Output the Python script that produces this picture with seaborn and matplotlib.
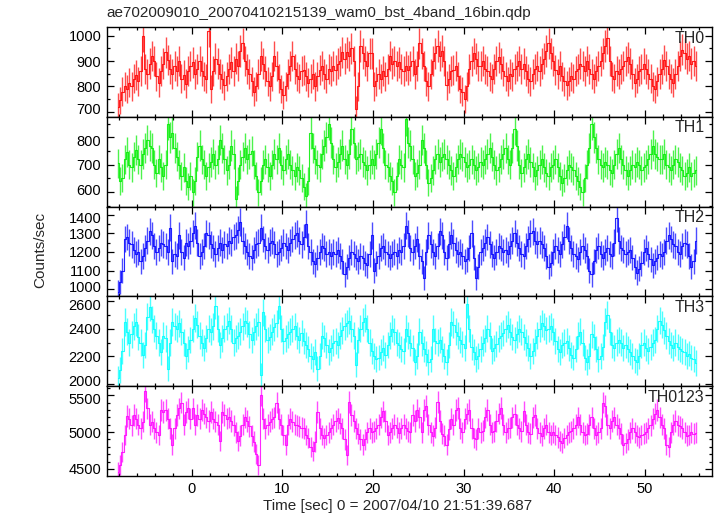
import numpy as np
import pandas as pd
import matplotlib
matplotlib.use('Agg')
import matplotlib.pyplot as plt
from matplotlib.ticker import MultipleLocator
from matplotlib.transforms import ScaledTranslation
import seaborn as sns

# 16 x 1/64 s = 0.25 s bins, first bin centre at -8.125 s
bin_width = 0.25
t_first = -8.125

th0 = [720, 745, 780, 800, 790, 815, 800, 830, 845, 820, 860, 1000, 870, 850, 890, 920,
       900, 840, 815, 860, 890, 935, 905, 870, 850, 880, 860, 900, 830, 845, 810, 860,
       880, 895, 850, 870, 900, 860, 840, 830, 1020, 790, 860, 910, 890, 850, 830, 805,
       840, 870, 895, 860, 910, 880, 940, 970, 900, 870, 850, 820, 780, 800, 850, 920,
       890, 860, 820, 800, 840, 920, 880, 830, 790, 765, 800, 850, 880, 920, 870, 840,
       830, 860, 866, 840, 815, 830, 850, 800, 840, 866, 880, 850, 830, 870, 860, 880,
       866, 890, 900, 935, 910, 935, 920, 950, 900, 710, 800, 960, 930, 900, 880, 930,
       930, 800, 820, 850, 830, 860, 840, 870, 920, 890, 900, 880, 895, 870, 860, 880,
       866, 880, 900, 850, 880, 970, 930, 880, 820, 800, 850, 900, 930, 960, 920, 940,
       900, 805, 830, 860, 866, 880, 840, 790, 780, 750, 800, 870, 900, 930, 910, 880,
       880, 900, 870, 860, 840, 830, 870, 900, 915, 890, 860, 840, 820, 850, 840, 870,
       880, 900, 870, 890, 860, 830, 820, 850, 870, 880, 860, 890, 910, 940, 970, 930,
       900, 866, 850, 880, 840, 820, 805, 820, 840, 830, 860, 870, 890, 880, 860, 900,
       870, 850, 830, 860, 880, 900, 930, 960, 990, 900, 840, 830, 860, 850, 870, 880,
       900, 915, 890, 850, 815, 830, 860, 870, 890, 870, 850, 830, 800, 790, 820, 850,
       870, 905, 880, 850, 830, 815, 850, 880, 920, 945, 930, 910, 920, 890, 900, 880]

th1 = [705, 640, 650, 720, 745, 700, 690, 730, 755, 720, 700, 740, 760, 790, 770, 760,
       700, 670, 720, 690, 660, 700, 850, 800, 815, 760, 730, 700, 660, 690, 640, 620,
       660, 600, 640, 730, 770, 720, 700, 660, 690, 710, 740, 700, 720, 790, 760, 720,
       680, 700, 770, 740, 575, 640, 700, 730, 760, 720, 740, 750, 700, 660, 600, 640,
       700, 720, 690, 660, 700, 740, 720, 760, 700, 680, 720, 740, 700, 680, 660, 690,
       680, 650, 620, 585, 640, 815, 760, 720, 700, 690, 740, 770, 800, 850, 780, 720,
       690, 710, 740, 770, 720, 700, 740, 830, 780, 720, 730, 740, 710, 700, 680, 700,
       720, 700, 740, 780, 830, 760, 700, 690, 660, 640, 600, 660, 720, 700, 690, 865,
       780, 770, 720, 660, 670, 700, 790, 760, 700, 635, 650, 680, 720, 740, 710, 730,
       740, 720, 700, 680, 660, 690, 720, 740, 730, 710, 690, 700, 720, 700, 680, 690,
       710, 700, 720, 740, 760, 730, 700, 680, 690, 720, 740, 760, 720, 700, 760, 830,
       770, 700, 670, 690, 720, 740, 710, 690, 660, 680, 700, 720, 690, 670, 660, 690,
       700, 720, 690, 660, 635, 650, 680, 700, 690, 680, 660, 640, 620, 600, 650, 700,
       760, 850, 800, 760, 720, 700, 690, 710, 700, 680, 670, 700, 740, 760, 720, 700,
       680, 660, 680, 700, 690, 710, 700, 680, 690, 700, 720, 740, 770, 740, 730, 720,
       720, 740, 700, 690, 680, 700, 720, 710, 690, 680, 660, 670, 690, 660, 670, 680]

th2 = [985, 1040, 1100, 1270, 1280, 1250, 1240, 1210, 1190, 1200, 1150, 1180, 1220, 1260, 1310, 1290,
       1230, 1200, 1220, 1250, 1240, 1230, 1200, 1330, 1150, 1190, 1180, 1290, 1200, 1170, 1250, 1230,
       1260, 1300, 1340, 1250, 1180, 1200, 1230, 1300, 1290, 1240, 1220, 1190, 1220, 1250, 1210, 1240,
       1230, 1260, 1250, 1280, 1290, 1320, 1360, 1260, 1230, 1200, 1180, 1170, 1210, 1240, 1250, 1330,
       1270, 1230, 1210, 1250, 1260, 1240, 1190, 1200, 1220, 1250, 1230, 1210, 1250, 1270, 1290, 1300,
       1260, 1240, 1280, 1350, 1230, 1200, 1150, 1135, 1170, 1200, 1230, 1220, 1190, 1200, 1180, 1200,
       1190, 1210, 1180, 1150, 1080, 1120, 1170, 1200, 1190, 1170, 1150, 1180, 1170, 1140, 1130, 1190,
       1290, 1100, 1140, 1180, 1220, 1230, 1200, 1190, 1170, 1190, 1200, 1180, 1210, 1200, 1230, 1340,
       1300, 1220, 1200, 1230, 1270, 1180, 1150, 1060, 1200, 1290, 1240, 1200, 1180, 1230, 1310, 1290,
       1200, 1170, 1240, 1290, 1250, 1210, 1190, 1200, 1180, 1150, 1160, 1220, 1300, 1170, 1060, 1120,
       1200, 1220, 1250, 1280, 1240, 1190, 1170, 1200, 1230, 1220, 1200, 1210, 1190, 1230, 1260, 1300,
       1250, 1220, 1190, 1180, 1230, 1270, 1300, 1310, 1260, 1240, 1260, 1240, 1220, 1180, 1120, 1140,
       1200, 1230, 1210, 1190, 1240, 1280, 1340, 1260, 1220, 1190, 1180, 1160, 1200, 1230, 1210, 1180,
       1100, 1080, 1150, 1210, 1230, 1190, 1170, 1200, 1220, 1190, 1180, 1250, 1380, 1260, 1220, 1210,
       1190, 1200, 1210, 1170, 1120, 1090, 1110, 1140, 1200, 1220, 1190, 1160, 1130, 1150, 1170, 1190,
       1180, 1200, 1260, 1290, 1270, 1240, 1230, 1200, 1190, 1230, 1250, 1240, 1180, 1120, 1150, 1260]

th3 = [2040, 2100, 2240, 2450, 2380, 2300, 2360, 2420, 2450, 2340, 2300, 2210, 2280, 2490, 2560, 2470,
       2400, 2350, 2300, 2230, 2350, 2330, 2110, 2300, 2450, 2420, 2400, 2440, 2380, 2300, 2200, 2250,
       2320, 2400, 2480, 2430, 2350, 2300, 2260, 2330, 2400, 2380, 2420, 2570, 2400, 2280, 2330, 2400,
       2420, 2460, 2400, 2300, 2330, 2350, 2380, 2420, 2460, 2440, 2360, 2320, 2380, 2420, 2450, 2060,
       2520, 2400, 2320, 2340, 2380, 2410, 2440, 2570, 2400, 2310, 2330, 2360, 2380, 2400, 2420, 2350,
       2320, 2370, 2310, 2280, 2250, 2200, 2180, 2230, 2110, 2200, 2350, 2330, 2280, 2230, 2260, 2300,
       2310, 2280, 2350, 2390, 2420, 2440, 2460, 2400, 2350, 2140, 2320, 2400, 2450, 2480, 2400, 2300,
       2240, 2200, 2180, 2190, 2230, 2260, 2210, 2280, 2350, 2400, 2380, 2300, 2280, 2250, 2240, 2400,
       2350, 2300, 2260, 2160, 2200, 2380, 2300, 2250, 2220, 2160, 2180, 2400, 2310, 2300, 2320, 2250,
       2200, 2160, 2280, 2450, 2430, 2380, 2350, 2320, 2290, 2260, 2580, 2400, 2270, 2230, 2180, 2200,
       2250, 2300, 2330, 2400, 2350, 2240, 2260, 2290, 2330, 2350, 2370, 2400, 2430, 2380, 2340, 2320,
       2360, 2400, 2380, 2340, 2300, 2260, 2200, 2240, 2300, 2350, 2400, 2440, 2420, 2390, 2400, 2420,
       2380, 2310, 2250, 2230, 2280, 2300, 2310, 2260, 2210, 2190, 2250, 2350, 2380, 2300, 2190, 2160,
       2200, 2360, 2340, 2250, 2180, 2200, 2270, 2450, 2500, 2380, 2280, 2260, 2300, 2320, 2300, 2260,
       2280, 2250, 2230, 2200, 2170, 2160, 2200, 2280, 2300, 2260, 2240, 2270, 2300, 2320, 2400, 2460,
       2430, 2390, 2350, 2310, 2280, 2260, 2300, 2270, 2250, 2240, 2230, 2200, 2220, 2190, 2180, 2150]

th0123 = [4460, 4560, 4730, 4960, 5220, 5180, 5090, 5230, 5180, 5100, 5050, 5140, 5560, 5320, 5100, 5140,
          5050, 5000, 4960, 5300, 5270, 5300, 5180, 5050, 4830, 5050, 5230, 5320, 5400, 5100, 5270, 5320,
          5180, 5320, 5100, 5230, 5180, 5300, 5250, 5200, 5150, 5270, 5180, 5140, 5100, 4880, 5270, 5230,
          5180, 5200, 5150, 5090, 5000, 4880, 4950, 5100, 5200, 5150, 5080, 4950, 4870, 4700, 4560, 5500,
          5180, 5050, 5100, 5140, 5180, 5200, 5400, 5180, 5100, 4960, 4830, 5100, 5180, 5140, 5100, 5090,
          5080, 5060, 5050, 4960, 4920, 4800, 4740, 4870, 5270, 5050, 4960, 4920, 4960, 5000, 5050, 5100,
          5150, 5185, 5120, 5050, 4900, 4690, 5410, 5230, 5150, 5050, 4980, 4900, 4830, 4900, 5000, 5050,
          5000, 5010, 5050, 5100, 5200, 5280, 5150, 4960, 5000, 5050, 5100, 5060, 4990, 5050, 5100, 5050,
          5010, 5000, 5230, 5150, 5300, 5200, 5000, 5300, 5350, 5100, 5000, 4950, 5060, 5410, 5150, 4980,
          4950, 4830, 5040, 5180, 5100, 5300, 5330, 5050, 5000, 5180, 5250, 5300, 5050, 4920, 4900, 5050,
          5000, 5020, 5200, 5300, 5100, 5000, 5010, 5150, 5250, 5330, 5100, 5000, 5050, 5060, 5200, 5240,
          5100, 5050, 5010, 5280, 5100, 5000, 4980, 5200, 5230, 5050, 4990, 4950, 5050, 5100, 5000, 4960,
          5000, 4960, 4930, 4880, 4850, 4920, 4960, 5000, 5010, 5050, 5100, 5200, 5100, 5000, 4960, 4980,
          5100, 5200, 5050, 4960, 5000, 5050, 5400, 5350, 5100, 5050, 5150, 5200, 5100, 5050, 4980, 4830,
          4850, 4900, 5000, 5050, 5000, 4950, 4930, 4960, 4980, 5000, 5050, 5090, 5180, 5250, 5300, 5200,
          5100, 5050, 4830, 4800, 5000, 5100, 5150, 5090, 5080, 5050, 5000, 4950, 4960, 5000, 4980, 4990]

band_names = ['TH0', 'TH1', 'TH2', 'TH3', 'TH0123']
band_colors = ['#ff0000', '#00ee00', '#0000ff', '#00ffff', '#ff00ff']
band_ylims = [(681, 1035), (548, 875), (963, 1443), (1982, 2637), (4405, 5622)]
band_yticks = [[700, 800, 900, 1000], [600, 700, 800], [1000, 1100, 1200, 1300, 1400],
               [2000, 2200, 2400, 2600], [4500, 5000, 5500]]
band_minor = [50, 50, 50, 100, 100]

rates = [th0, th1, th2, th3, th0123]
n = len(th0)
time = t_first + bin_width * np.arange(n)

frames = []
for name, r in zip(band_names, rates):
    r = np.asarray(r, dtype=float)
    frames.append(pd.DataFrame({'time': time, 'rate': r,
                                'err': np.sqrt(r / bin_width), 'band': name}))
df = pd.concat(frames, ignore_index=True)

sns.set_style('ticks')
plt.rcParams['font.family'] = ['Liberation Sans', 'DejaVu Sans']
plt.rcParams['font.size'] = 11

fig, axes = plt.subplots(5, 1, figsize=(7.17, 5.16), dpi=100, sharex=True)
fig.subplots_adjust(left=0.149, right=0.993, top=0.948, bottom=0.0775, hspace=0)

for ax, name, color, ylim, yt, mn in zip(axes, band_names, band_colors, band_ylims,
                                         band_yticks, band_minor):
    d = df[df['band'] == name]
    sns.lineplot(data=d, x='time', y='rate', ax=ax, color=color, lw=0.8,
                 drawstyle='steps-mid', alpha=0.85, legend=False)
    ax.errorbar(d['time'], d['rate'], yerr=d['err'], fmt='none', ecolor=color,
                elinewidth=1.0, alpha=0.7, capsize=0)
    ax.set_ylim(*ylim)
    ax.set_yticks(yt)
    ax.yaxis.set_minor_locator(MultipleLocator(mn))
    ax.set_xlim(-9.35, 57.4)
    ax.xaxis.set_major_locator(MultipleLocator(10))
    ax.xaxis.set_minor_locator(MultipleLocator(2))
    ax.tick_params(which='both', direction='in', top=True, right=True, width=0.9,
                   labelsize=10.5, pad=4, colors='black')
    ax.tick_params(which='major', length=5)
    ax.tick_params(which='minor', length=2.5)
    for sp in ax.spines.values():
        sp.set_linewidth(1.0)
        sp.set_color('black')
    ax.set_xlabel('')
    ax.set_ylabel('')
    ax.text(0.988, 0.875, name, transform=ax.transAxes, ha='right', va='center',
            fontsize=11.5)

# nudge the y labels that sit at panel joins so neighbours do not collide
nudge = 2.2 / 72
for ax in axes[1:]:
    ticks = ax.yaxis.get_major_ticks()
    lab = ticks[-1].label1
    lab.set_transform(lab.get_transform() + ScaledTranslation(0, -nudge, fig.dpi_scale_trans))
for ax in axes[:-1]:
    ticks = ax.yaxis.get_major_ticks()
    lab = ticks[0].label1
    lab.set_transform(lab.get_transform() + ScaledTranslation(0, nudge, fig.dpi_scale_trans))

fig.text(0.149, 0.975, 'ae702009010_20070410215139_wam0_bst_4band_16bin.qdp',
         ha='left', va='center', fontsize=11)
fig.text(0.056, 0.515, 'Counts/sec', rotation=90, ha='center', va='center', fontsize=11)
fig.text(0.555, 0.019, 'Time [sec] 0 = 2007/04/10 21:51:39.687', ha='center',
         va='center', fontsize=11)

fig.savefig('out.png', dpi=100)
